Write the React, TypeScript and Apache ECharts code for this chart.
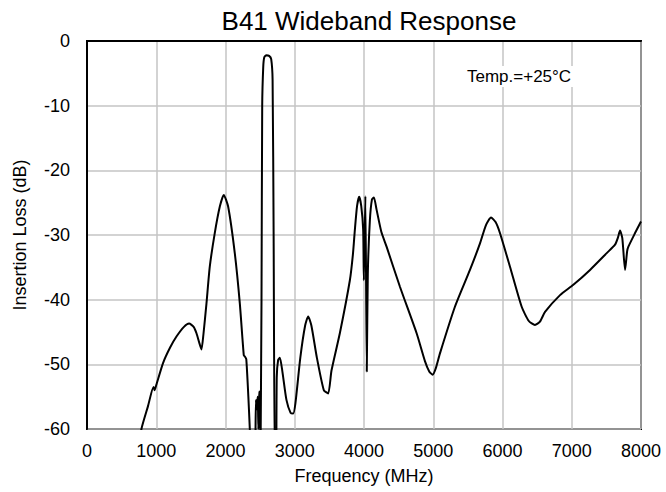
import React, { useEffect, useRef } from "react";
import * as echarts from "echarts";

const freqMHz: number[] = [
  700, 786, 880, 960, 975, 1000, 1098, 1200, 1292, 1400, 1474, 1540, 1581, 1625, 1653, 1680,
  1725, 1773, 1845, 1918, 1975, 2038, 2134, 2207, 2264, 2280, 2300, 2330, 2351, 2370, 2420,
  2440, 2450, 2465, 2475, 2485, 2500, 2505, 2515, 2520, 2530, 2545, 2560, 2590, 2630, 2660,
  2680, 2695, 2712, 2730, 2740, 2760, 2785, 2820, 2880, 2940, 2977, 3010, 3080, 3150, 3194,
  3240, 3320, 3420, 3483, 3530, 3651, 3796, 3840, 3868, 3900, 3930, 3960, 3988, 3998, 4020,
  4040, 4055, 4085, 4115, 4143, 4180, 4250, 4326, 4519, 4760, 4880, 4942, 4991, 5040, 5097,
  5313, 5530, 5675, 5760, 5834, 5900, 5963, 6108, 6277, 6380, 6469, 6541, 6614, 6831, 7023,
  7264, 7505, 7625, 7670, 7697, 7730, 7770, 7800, 7818, 7914, 8000,
];

const insertionLossDb: number[] = [
  -66, -60, -56.5, -53.5, -54, -53.2, -49.8, -47.4, -45.7, -44.2, -43.7, -44.2, -45.2, -46.8, -47.7, -45.5,
  -40.6, -34.9, -29.7, -25.6, -23.8, -25.6, -32.8, -40.6, -48.6, -48.8, -49.2, -55, -60, -66, -66,
  -55.5, -57, -55, -60, -54.2, -54.5, -66, -66, -40, -10, -4, -2.5, -2.2, -2.3, -2.8,
  -6, -30, -66, -66, -52, -49.3, -49, -51, -55.5, -57.5, -57.6, -56, -49, -44, -42.6,
  -44, -49, -54, -54.5, -51, -45.2, -37, -33, -29.2, -25.5, -24.1, -25.5, -29.2, -37, -24,
  -51.1, -36, -27.7, -24.5, -24.2, -26, -29.5, -31.8, -38, -45.2, -49.5, -51.1, -51.6, -50.5, -48.3,
  -41.1, -35.4, -31.3, -28.5, -27.3, -28, -29.7, -34.9, -41.1, -43.3, -43.9, -43.4, -41.9, -39.3, -37.7,
  -35.4, -32.8, -31.5, -30.3, -29.3, -30.5, -35.4, -32.5, -31.8, -29.7, -27.9,
];

const titleText = "B41 Wideband Response";
const xAxisName = "Frequency (MHz)";
const yAxisName = "Insertion Loss (dB)";
const noteText = "Temp.=+25°C";
const xMin = 0, xMax = 8000, xStep = 1000;
const yMin = -60, yMax = 0, yStep = 10;

export default function App() {
  const ref = useRef<HTMLDivElement>(null);
  useEffect(() => {
    if (!ref.current) return;
    const chart = echarts.init(ref.current, null, { renderer: "svg" });
    const font = "'Liberation Sans', Arial, sans-serif";
    chart.setOption({
      animation: false,
      backgroundColor: "#ffffff",
      textStyle: { fontFamily: font },
      title: {
        text: titleText,
        left: 364,
        top: 3,
        textAlign: "center",
        textStyle: { fontFamily: font, fontSize: 26, fontWeight: "normal", color: "#000" },
      },
      grid: {
        left: 87,
        right: 25,
        top: 41,
        bottom: 63,
        show: true,
        borderColor: "#000",
        borderWidth: 2,
        backgroundColor: "transparent",
      },
      xAxis: {
        type: "value",
        min: xMin,
        max: xMax,
        interval: xStep,
        name: xAxisName,
        nameLocation: "middle",
        nameGap: 38,
        nameTextStyle: { fontFamily: font, fontSize: 18, color: "#000" },
        axisLine: { show: true, lineStyle: { color: "#000", width: 2 } },
        axisTick: { show: false },
        axisLabel: {
          fontFamily: font,
          fontSize: 18,
          color: "#000",
          margin: 13,
          formatter: (v: number) => String(v),
        },
        splitLine: { show: true, lineStyle: { color: "#c4c4c4", width: 1.5 } },
      },
      yAxis: {
        type: "value",
        min: yMin,
        max: yMax,
        interval: yStep,
        name: yAxisName,
        nameLocation: "middle",
        nameGap: 58,
        nameTextStyle: { fontFamily: font, fontSize: 18, color: "#000" },
        axisLine: { show: true, lineStyle: { color: "#000", width: 2 } },
        axisTick: { show: false },
        axisLabel: {
          fontFamily: font,
          fontSize: 18,
          color: "#000",
          margin: 17,
          formatter: (v: number) => String(v),
        },
        splitLine: { show: true, lineStyle: { color: "#c4c4c4", width: 1.5 } },
      },
      graphic: [
        {
          type: "text",
          left: 465,
          top: 66,
          z: 10,
          style: {
            text: noteText,
            fontFamily: font,
            fontSize: 17,
            fill: "#000",
            backgroundColor: "#fff",
            padding: [2, 2],
          },
        },
      ],
      series: [
        {
          type: "line",
          data: freqMHz.map((f, i) => [f, insertionLossDb[i]]),
          showSymbol: false,
          symbol: "none",
          smooth: 0.2,
          clip: true,
          lineStyle: { color: "#000", width: 2 },
        },
      ],
    });
    return () => chart.dispose();
  }, []);
  return (
    <div
      ref={ref}
      style={{ position: "fixed", left: 0, top: 0, width: 666, height: 492 }}
    />
  );
}
